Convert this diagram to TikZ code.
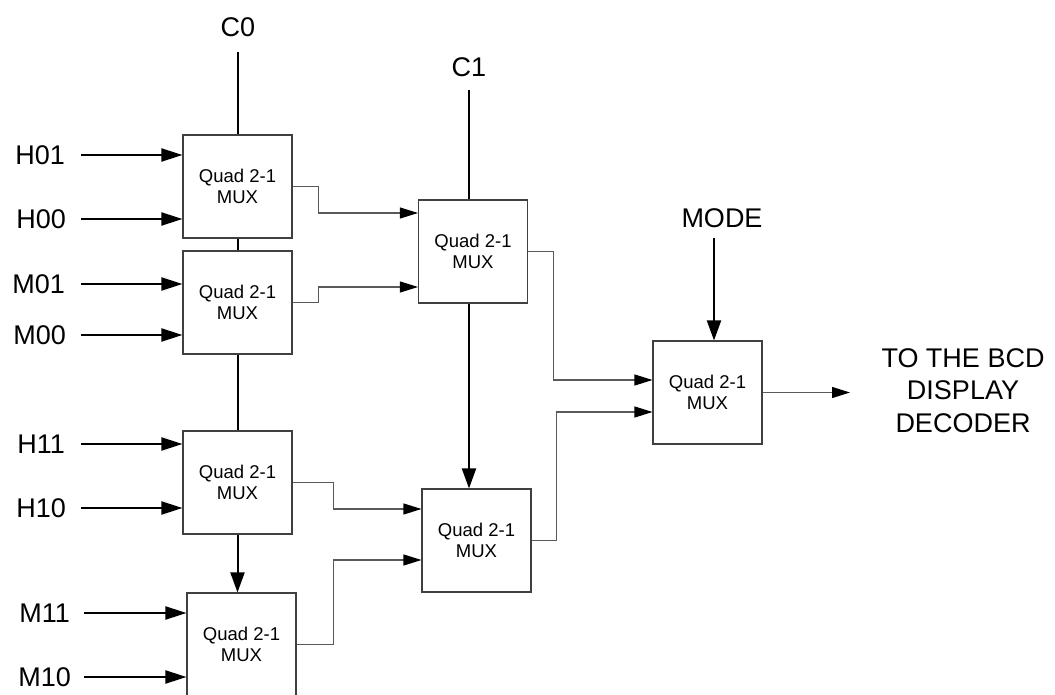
\documentclass[tikz,border=0pt]{standalone}
\usepackage{fontspec}
\setmainfont{Liberation Sans}
\usetikzlibrary{arrows.meta}
\begin{document}
\begin{tikzpicture}[x=1pt,y=-1pt,
  mux/.style={draw=black!75,line width=1.1pt,minimum width=109pt,minimum height=103pt,inner sep=0pt,align=center,font=\fontsize{18.5}{21}\selectfont},
  lbl/.style={inner sep=0pt,font=\fontsize{27}{30}\selectfont},
  ctl/.style={line width=2pt,black},
  ctlarr/.style={line width=2pt,black,-{Triangle[length=20pt,width=14pt]}},
  inarr/.style={line width=2pt,black,-{Triangle[length=21pt,width=13pt]}},
  conn/.style={line width=1.1pt,black!65,-{Triangle[length=18pt,width=11pt,color=black]}}
]
\useasboundingbox (0,0) rectangle (1055,695);
\clip (0,0) rectangle (1055,695);

% boxes
\node[mux] (A) at (237.5,186.5) {Quad 2-1\\MUX};
\node[mux] (B) at (237.5,302.5) {Quad 2-1\\MUX};
\node[mux] (C) at (237.5,482.5) {Quad 2-1\\MUX};
\node[mux] (D) at (241.5,644.5) {Quad 2-1\\MUX};
\node[mux] (E) at (473,251.5) {Quad 2-1\\MUX};
\node[mux] (G) at (476.5,540.5) {Quad 2-1\\MUX};
\node[mux] (F) at (707.5,392.5) {Quad 2-1\\MUX};

% control labels
\node[lbl] (C0) at (238,27) {C0};
\node[lbl] (C1) at (469,67) {C1};
\node[lbl] (MODE) at (722,218) {MODE};
\node[lbl,align=center,font=\fontsize{27}{32.5}\selectfont] (OUT) at (963,390.5) {TO THE BCD\\DISPLAY\\DECODER};
\coordinate (outend) at (850,392.5);

% input labels
\node[lbl,anchor=east] (H01) at (65,155) {H01};
\node[lbl,anchor=east] (H00) at (66,219) {H00};
\node[lbl,anchor=east] (M01) at (65,284) {M01};
\node[lbl,anchor=east] (M00) at (66,335) {M00};
\node[lbl,anchor=east] (H11) at (65,444) {H11};
\node[lbl,anchor=east] (H10) at (66,508) {H10};
\node[lbl,anchor=east] (M11) at (70,613) {M11};
\node[lbl,anchor=east] (M10) at (71,677) {M10};

% input arrows
\draw[inarr] ([xshift=16pt]H01.east) -- (A.west |- H01.east);
\draw[inarr] ([xshift=15pt]H00.east) -- (A.west |- H00.east);
\draw[inarr] ([xshift=16pt]M01.east) -- (B.west |- M01.east);
\draw[inarr] ([xshift=15pt]M00.east) -- (B.west |- M00.east);
\draw[inarr] ([xshift=16pt]H11.east) -- (C.west |- H11.east);
\draw[inarr] ([xshift=15pt]H10.east) -- (C.west |- H10.east);
\draw[inarr] ([xshift=14pt]M11.east) -- (D.west |- M11.east);
\draw[inarr] ([xshift=13pt]M10.east) -- (D.west |- M10.east);

% control lines
\draw[ctl] ([yshift=-15pt]C0.south) -- (C0.south |- A.north);
\draw[ctl] (A.south) -- (B.north);
\draw[ctl] (B.south) -- (C.north);
\draw[ctlarr] (C.south) -- (C.south |- D.north);
\draw[ctl] ([yshift=-13pt]C1.south) -- (C1.south |- E.north);
\draw[ctlarr] (C1.south |- E.south) -- (C1.south |- G.north);
\draw[ctlarr] ([xshift=-8pt,yshift=-10pt]MODE.south) -- ([xshift=-8pt]MODE.south |- F.north);

% connectors
\draw[conn] (A.east) -- ++(26,0) |- ([yshift=38.5pt]E.west);
\draw[conn] (B.east) -- ++(26,0) |- ([yshift=-35.5pt]E.west);
\draw[conn] (C.east) -- ++(41,0) |- ([yshift=31.5pt]G.west);
\draw[conn] (D.east) -- ++(37,0) |- ([yshift=-19.5pt]G.west);
\draw[conn] (E.east) -- ++(25,0) |- ([yshift=12.5pt]F.west);
\draw[conn] (G.east) -- ++(25,0) |- ([yshift=-19.5pt]F.west);
\draw[conn] (F.east) -- (outend);
\end{tikzpicture}
\end{document}
